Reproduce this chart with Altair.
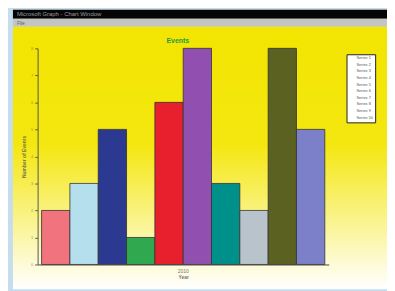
import altair as alt
import pandas as pd

series = ["Series 1", "Series 2", "Series 3", "Series 4", "Series 5",
          "Series 6", "Series 7", "Series 8", "Series 9", "Series 10"]
values = [2, 3, 5, 1, 6, 8, 3, 2, 8, 5]
colors = ["#f0737d", "#b5dfec", "#2b3990", "#2fa84f", "#e8202e",
          "#9150b0", "#00908a", "#b8c3cb", "#5b6120", "#7b80c8"]
year = "2010"

df = pd.DataFrame({"year": [year] * len(series), "series": series, "value": values})
one = pd.DataFrame({"d": [0]})

W, H = 295, 219

yellow_grad = {
    "gradient": "linear", "x1": 0, "y1": 0, "x2": 0, "y2": 1,
    "stops": [
        {"offset": 0.0, "color": "#f2e500"},
        {"offset": 0.45, "color": "#f4e710"},
        {"offset": 0.8, "color": "#fbf6a8"},
        {"offset": 1.0, "color": "#ffffff"},
    ],
}

window = alt.Chart(one).mark_rect(color=yellow_grad).encode(
    x=alt.value(-25), x2=alt.value(354), y=alt.value(-22), y2=alt.value(244))
titlebar = alt.Chart(one).mark_rect(color="#050505").encode(
    x=alt.value(-25), x2=alt.value(354), y=alt.value(-39), y2=alt.value(-30))
menubar = alt.Chart(one).mark_rect(color="#c4c4c0").encode(
    x=alt.value(-25), x2=alt.value(354), y=alt.value(-30), y2=alt.value(-22))
wintitle = alt.Chart(one).mark_text(align="left", baseline="middle", fontSize=6,
                                    color="#9a9a9a", font="Liberation Sans").encode(
    x=alt.value(-21), y=alt.value(-34.5), text=alt.value("Microsoft Graph - Chart Window"))
menutext = alt.Chart(one).mark_text(align="left", baseline="middle", fontSize=5,
                                    color="#666666", font="Liberation Sans").encode(
    x=alt.value(-21), y=alt.value(-26), text=alt.value("File"))
chart_title = alt.Chart(one).mark_text(align="center", baseline="middle", fontSize=7,
                                       fontWeight="bold", color="#1c9a45",
                                       font="Liberation Sans").encode(
    x=alt.value(142), y=alt.value(-7), text=alt.value("Events"))

bars = alt.Chart(df).mark_bar(stroke="#333333", strokeWidth=0.8).encode(
    x=alt.X("year:N", title="Year",
            scale=alt.Scale(paddingOuter=0.014, paddingInner=0),
            axis=alt.Axis(labelFontSize=5, titleFontSize=5, labelColor="#777777",
                          titleColor="#777777", labelAngle=0, tickSize=0, zindex=2,
                          domainColor="#444444", titlePadding=1, labelPadding=4)),
    xOffset=alt.XOffset("series:N", sort=series, scale=alt.Scale(paddingInner=0, paddingOuter=0)),
    y=alt.Y("value:Q", title="Number of Events",
            scale=alt.Scale(domain=[0, 8], nice=False),
            axis=alt.Axis(values=list(range(0, 9)), labelFontSize=4, titleFontSize=5,
                          labelColor="#a09a40", titleColor="#777744", tickColor="#666633",
                          tickSize=3, domainColor="#555555", grid=False, titlePadding=4,
                          zindex=2)),
    color=alt.Color("series:N", sort=series,
                    scale=alt.Scale(domain=series, range=colors),
                    legend=alt.Legend(orient="none", legendX=313, legendY=6, title=None,
                                      fillColor="#ffffff", strokeColor="#222222",
                                      padding=2, labelFontSize=4, symbolSize=0,
                                      symbolStrokeWidth=0, labelColor="#555555",
                                      rowPadding=2.7, labelLimit=24)),
)

chart = alt.layer(window, titlebar, menubar, wintitle, menutext, chart_title, bars).properties(
    width=W, height=H,
    background="#c6dded",
    padding={"left": 30, "top": 39, "right": 59, "bottom": 25},
    autosize=alt.AutoSizeParams(type="none"),
).configure_view(stroke="#6d6a3a", strokeWidth=1)

chart.save("out.html", embed_options={"renderer": "svg", "actions": False})
